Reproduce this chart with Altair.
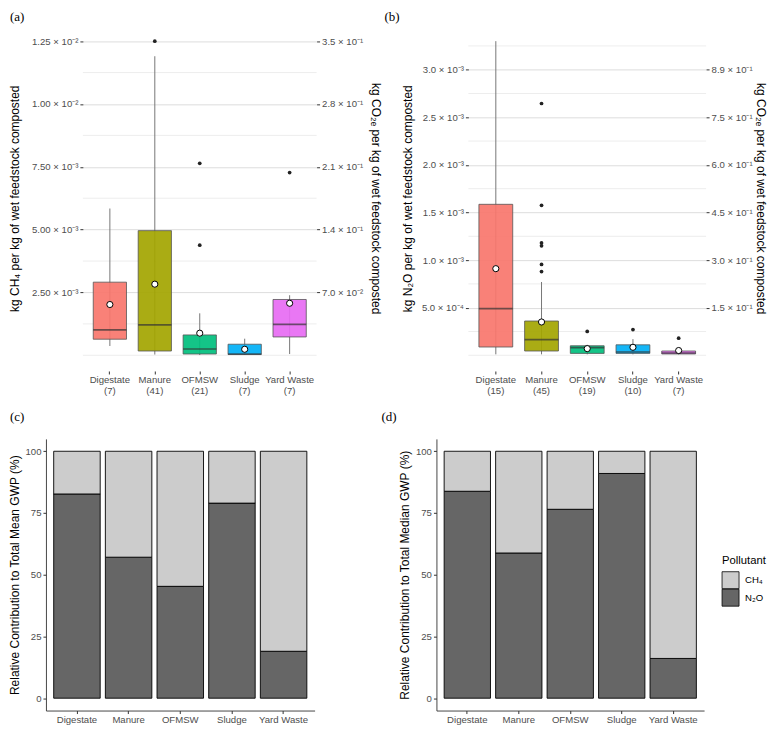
import altair as alt
import pandas as pd

# ---------------- data ----------------
cats = ["Digestate", "Manure", "OFMSW", "Sludge", "Yard Waste"]
box_colors = ["#F8766D", "#A3A500", "#00BF7D", "#00B0F6", "#E76BF3"]

# (a) CH4 emission factors, kg CH4 per kg wet feedstock
n_ch4 = [7, 41, 21, 7, 7]
ch4_wlo = [0.00037, 0.00003, 0.00001, 0.00002, 0.00005]
ch4_q1 = [0.00064, 0.00017, 0.00005, 0.00003, 0.00073]
ch4_med = [0.00101, 0.00121, 0.00025, 0.00005, 0.00123]
ch4_q3 = [0.00291, 0.00496, 0.00081, 0.00044, 0.00222]
ch4_whi = [0.00584, 0.01190, 0.00167, 0.00066, 0.00239]
ch4_mean = [0.00202, 0.00283, 0.00088, 0.00024, 0.00207]
ch4_out_cat = ["Manure", "OFMSW", "OFMSW", "Yard Waste"]
ch4_out_val = [0.01250, 0.00438, 0.00764, 0.00727]

# (b) N2O emission factors, kg N2O per kg wet feedstock
n_n2o = [15, 45, 19, 10, 7]
n2o_wlo = [0.00001, 0.00001, 0.00001, 0.00001, 0.00001]
n2o_q1 = [0.000087, 0.000045, 0.00002, 0.00002, 0.000014]
n2o_med = [0.00049, 0.000165, 0.00008, 0.000035, 0.000024]
n2o_q3 = [0.001586, 0.00036, 0.0001, 0.00011, 0.000045]
n2o_whi = [0.00330, 0.00077, 0.00011, 0.00017, 0.00005]
n2o_mean = [0.00091, 0.00035, 0.00007, 0.000084, 0.00005]
n2o_out_cat = ["Manure"] * 6 + ["OFMSW", "Sludge", "Yard Waste"]
n2o_out_val = [0.002645, 0.001576, 0.00118, 0.00115, 0.000955, 0.00088,
               0.00025, 0.00027, 0.00018]

# GWP factors for secondary axes
gwp_ch4 = 28
gwp_n2o = 298

# axis ticks
ch4_ticks = [0.0025, 0.005, 0.0075, 0.01, 0.0125]
ch4_tick_labels = ["2.50 × 10⁻³", "5.00 × 10⁻³", "7.50 × 10⁻³", "1.00 × 10⁻²", "1.25 × 10⁻²"]
ch4_minor = [0.0, 0.00125, 0.00375, 0.00625, 0.00875, 0.01125]
ch4_sec_ticks = [0.07, 0.14, 0.21, 0.28, 0.35]
ch4_sec_labels = ["7.0 × 10⁻²", "1.4 × 10⁻¹", "2.1 × 10⁻¹", "2.8 × 10⁻¹", "3.5 × 10⁻¹"]

n2o_ticks = [0.0005, 0.001, 0.0015, 0.002, 0.0025, 0.003]
n2o_tick_labels = ["5.0 × 10⁻⁴", "1.0 × 10⁻³", "1.5 × 10⁻³", "2.0 × 10⁻³", "2.5 × 10⁻³", "3.0 × 10⁻³"]
n2o_minor = [0.0, 0.00025, 0.00075, 0.00125, 0.00175, 0.00225, 0.00275, 0.00325]
n2o_sec_ticks = [0.149, 0.298, 0.447, 0.596, 0.745, 0.894]
n2o_sec_labels = ["1.5 × 10⁻¹", "3.0 × 10⁻¹", "4.5 × 10⁻¹", "6.0 × 10⁻¹", "7.5 × 10⁻¹", "8.9 × 10⁻¹"]

# (c) mean and (d) median relative contributions (%)
pollutants = ["CH₄", "N₂O"]
pollutant_colors = ["#cccccc", "#666666"]
mean_n2o = [82.7, 57.1, 45.3, 79.0, 19.0]
mean_ch4 = [17.3, 42.9, 54.7, 21.0, 81.0]
median_n2o = [83.8, 58.8, 76.5, 91.0, 16.1]
median_ch4 = [16.2, 41.2, 23.5, 9.0, 83.9]
pct_ticks = [0, 25, 50, 75, 100]

# ---------------- styling ----------------
FONT = "Liberation Sans"
LABEL_COLOR = "#4d4d4d"
LABEL_SIZE = 9.6
TITLE_SIZE = 12


def value_label_expr(values, labels):
    expr = "''"
    for v, l in reversed(list(zip(values, labels))):
        expr = f"abs(datum.value - {v}) < {abs(v) * 1e-6 + 1e-12} ? '{l}' : {expr}"
    return expr


def cat_label_expr(counts):
    expr = "datum.label"
    for c, n in reversed(list(zip(cats, counts))):
        expr = f"datum.label == '{c}' ? ['{c}', '({n})'] : {expr}"
    return expr


def box_panel(tag, counts, wlo, q1, med, q3, whi, mean, out_cat, out_val,
              domain, ticks, tick_labels, minor, factor, sec_ticks, sec_labels,
              ytitle, sectitle, width, height, left_title_x, right_title_x, tag_x):
    df = pd.DataFrame({"cat": cats, "wlo": wlo, "q1": q1, "med": med,
                       "q3": q3, "whi": whi, "mean": mean})
    out_df = pd.DataFrame({"cat": out_cat, "val": out_val})
    minor_df = pd.DataFrame({"m": minor})
    yscale = alt.Scale(domain=domain, nice=False, zero=False)
    yaxis = alt.Axis(values=ticks, labelExpr=value_label_expr(ticks, tick_labels),
                     grid=True, gridColor="#d9d9d9", gridWidth=0.9,
                     domain=False, ticks=True, tickSize=3, tickColor="#333333",
                     labelColor=LABEL_COLOR, labelFontSize=LABEL_SIZE, labelFont=FONT,
                     labelPadding=2,
                     title=ytitle, titleFont=FONT, titleFontSize=TITLE_SIZE,
                     titleFontWeight="normal", titleColor="black",
                     titleX=left_title_x, titleY=height / 2)
    xscale = alt.Scale(domain=cats, paddingInner=0.26, paddingOuter=0.23)
    xaxis = alt.Axis(title=None, labelExpr=cat_label_expr(counts), domain=False,
                     ticks=True, tickSize=3, tickColor="#333333", labelAngle=0,
                     labelColor=LABEL_COLOR, labelFontSize=LABEL_SIZE, labelFont=FONT,
                     labelPadding=1, labelLineHeight=11, grid=False)
    X = alt.X("cat:N", sort=cats, scale=xscale, axis=xaxis)

    minor_rules = alt.Chart(minor_df).mark_rule(color="#ebebeb", strokeWidth=0.9).encode(
        y=alt.Y("m:Q", scale=yscale, axis=yaxis))
    base = alt.Chart(df)
    whisk = base.mark_rule(color="#777777", strokeWidth=1).encode(
        x=X, y=alt.Y("wlo:Q", scale=yscale, axis=yaxis), y2="whi:Q")
    boxes = base.mark_bar(stroke="#555555", strokeWidth=0.8, fillOpacity=0.92).encode(
        x=X, y=alt.Y("q1:Q", scale=yscale, axis=yaxis), y2="q3:Q",
        fill=alt.Fill("cat:N", scale=alt.Scale(domain=cats, range=box_colors), legend=None))
    bw = width / 5.2 * 0.74
    medians = base.mark_tick(color="#333333", thickness=1.6, size=bw, orient="horizontal").encode(
        x=X, y=alt.Y("med:Q", scale=yscale, axis=yaxis))
    outs = alt.Chart(out_df).mark_circle(color="#222222", size=14, opacity=1).encode(
        x=X, y=alt.Y("val:Q", scale=yscale, axis=yaxis))
    means = base.mark_point(shape="circle", filled=True, fill="white", stroke="black",
                            strokeWidth=1, size=38, opacity=1).encode(
        x=X, y=alt.Y("mean:Q", scale=yscale, axis=yaxis))
    tag_df = pd.DataFrame({"t": [tag]})
    label = alt.Chart(tag_df).mark_text(font="Liberation Serif", fontSize=13, align="left",
                                        baseline="top", color="black").encode(
        x=alt.value(tag_x), y=alt.value(-14), text="t:N")
    primary = alt.layer(minor_rules, whisk, boxes, medians, outs, means, label)

    sec = alt.Chart(df).transform_calculate(sec=f"datum.whi * {factor}").mark_point(opacity=0).encode(
        x=X,
        y=alt.Y("sec:Q", scale=alt.Scale(domain=[d * factor for d in domain], nice=False, zero=False),
                axis=alt.Axis(orient="right", values=sec_ticks,
                              labelExpr=value_label_expr(sec_ticks, sec_labels),
                              grid=False, domain=False, ticks=True, tickSize=3,
                              tickColor="#333333", labelColor=LABEL_COLOR,
                              labelFontSize=LABEL_SIZE, labelFont=FONT, labelPadding=2,
                              title=sectitle, titleFont=FONT, titleFontSize=TITLE_SIZE,
                              titleFontWeight="normal", titleColor="black",
                              titleX=right_title_x, titleY=height / 2)))
    return alt.layer(primary, sec).resolve_scale(y="independent").properties(
        width=width, height=height)


color_scale = alt.Scale(domain=pollutants, range=pollutant_colors)


def bar_panel(tag, n2o_vals, ch4_vals, ytitle, width, height, x_range, y_offset,
              left_title_x, tag_x, tag_y, legend_at=None):
    df = pd.DataFrame({
        "cat": cats * 2,
        "pollutant": ["N₂O"] * 5 + ["CH₄"] * 5,
        "pct": n2o_vals + ch4_vals,
        "ord": [0] * 5 + [1] * 5,
    })
    bars = alt.Chart(df).mark_bar(stroke="black", strokeWidth=0.9).encode(
        x=alt.X("cat:N", sort=cats,
                scale=alt.Scale(domain=cats, paddingInner=0.1, paddingOuter=0.15, range=x_range),
                axis=alt.Axis(title=None, labelAngle=0, domain=True, domainColor="#333333",
                              domainWidth=0.9, ticks=True, tickSize=3, tickColor="#333333",
                              labelColor=LABEL_COLOR, labelFontSize=LABEL_SIZE,
                              labelFont=FONT, labelPadding=1, grid=False)),
        y=alt.Y("pct:Q", stack="zero", scale=alt.Scale(domain=[-5, 105], nice=False, zero=False),
                axis=alt.Axis(values=pct_ticks, grid=False, domain=True, domainColor="#333333",
                              domainWidth=0.9, ticks=True, tickSize=3, tickColor="#333333",
                              labelColor=LABEL_COLOR, labelFontSize=LABEL_SIZE,
                              labelFont=FONT, labelPadding=2, offset=y_offset,
                              title=ytitle, titleFont=FONT, titleFontSize=TITLE_SIZE,
                              titleFontWeight="normal", titleColor="black",
                              titleX=left_title_x, titleY=height / 2)),
        color=alt.Color("pollutant:N", scale=color_scale, legend=None),
        order=alt.Order("ord:Q"),
    )
    tag_df = pd.DataFrame({"t": [tag]})
    label = alt.Chart(tag_df).mark_text(font="Liberation Serif", fontSize=13, align="left",
                                        baseline="top", color="black").encode(
        x=alt.value(tag_x), y=alt.value(tag_y), text="t:N")
    layers = [bars, label]
    if legend_at is not None:
        lx, ly = legend_at
        title_df = pd.DataFrame({"t": ["Pollutant"]})
        layers.append(alt.Chart(title_df).mark_text(
            font=FONT, fontSize=11.3, align="left", baseline="middle", color="black").encode(
            x=alt.value(lx), y=alt.value(ly), text="t:N"))
        for i, p in enumerate(pollutants):
            key_df = pd.DataFrame({"pollutant": [p]})
            yk = ly + 19.5 + i * 17.5
            layers.append(alt.Chart(key_df).mark_square(
                size=289, stroke="black", strokeWidth=0.8, opacity=1).encode(
                x=alt.value(lx + 8.5), y=alt.value(yk),
                color=alt.Color("pollutant:N", scale=color_scale, legend=None)))
            layers.append(alt.Chart(key_df).mark_text(
                font=FONT, fontSize=LABEL_SIZE, align="left", baseline="middle",
                color="black").encode(
                x=alt.value(lx + 23), y=alt.value(yk), text="pollutant:N"))
    return alt.layer(*layers).properties(width=width, height=height)


pa = box_panel("(a)", n_ch4, ch4_wlo, ch4_q1, ch4_med, ch4_q3, ch4_whi, ch4_mean,
               ch4_out_cat, ch4_out_val, [-0.000625, 0.013125], ch4_ticks, ch4_tick_labels,
               ch4_minor, gwp_ch4, ch4_sec_ticks, ch4_sec_labels,
               "kg CH₄ per kg of wet feedstock composted",
               "kg CO₂ₑ per kg of wet feedstock composted",
               234, 346, -61, 52, -73)
pb = box_panel("(b)", n_n2o, n2o_wlo, n2o_q1, n2o_med, n2o_q3, n2o_whi, n2o_mean,
               n2o_out_cat, n2o_out_val, [-0.000165, 0.003465], n2o_ticks, n2o_tick_labels,
               n2o_minor, gwp_n2o, n2o_sec_ticks, n2o_sec_labels,
               "kg N₂O per kg of wet feedstock composted",
               "kg CO₂ₑ per kg of wet feedstock composted",
               238, 346, -54, 47, -84)
# (c) shares its column origin with (a); its plot is drawn 37px further left
pc = bar_panel("(c)", mean_n2o, mean_ch4, "Relative Contribution to Total Mean GWP (%)",
               232, 272, [-37, 232], 37, -24, -73, -28)
pd_ = bar_panel("(d)", median_n2o, median_ch4, "Relative Contribution to Total Median GWP (%)",
                268, 272, [0, 268], 0, -25, -55, -28, legend_at=(286, 122))

chart = alt.vconcat(
    alt.hconcat(pa, pb, spacing=3),
    alt.hconcat(pc, pd_, spacing=30),
    spacing=15,
).resolve_scale(color="independent", fill="independent").properties(
    padding={"left": 0, "top": 3, "right": 1, "bottom": 0}
).configure(background="white", view=alt.ViewConfig(strokeWidth=0, stroke="transparent"))

chart.save("out.html", embed_options={"renderer": "svg", "actions": False})
